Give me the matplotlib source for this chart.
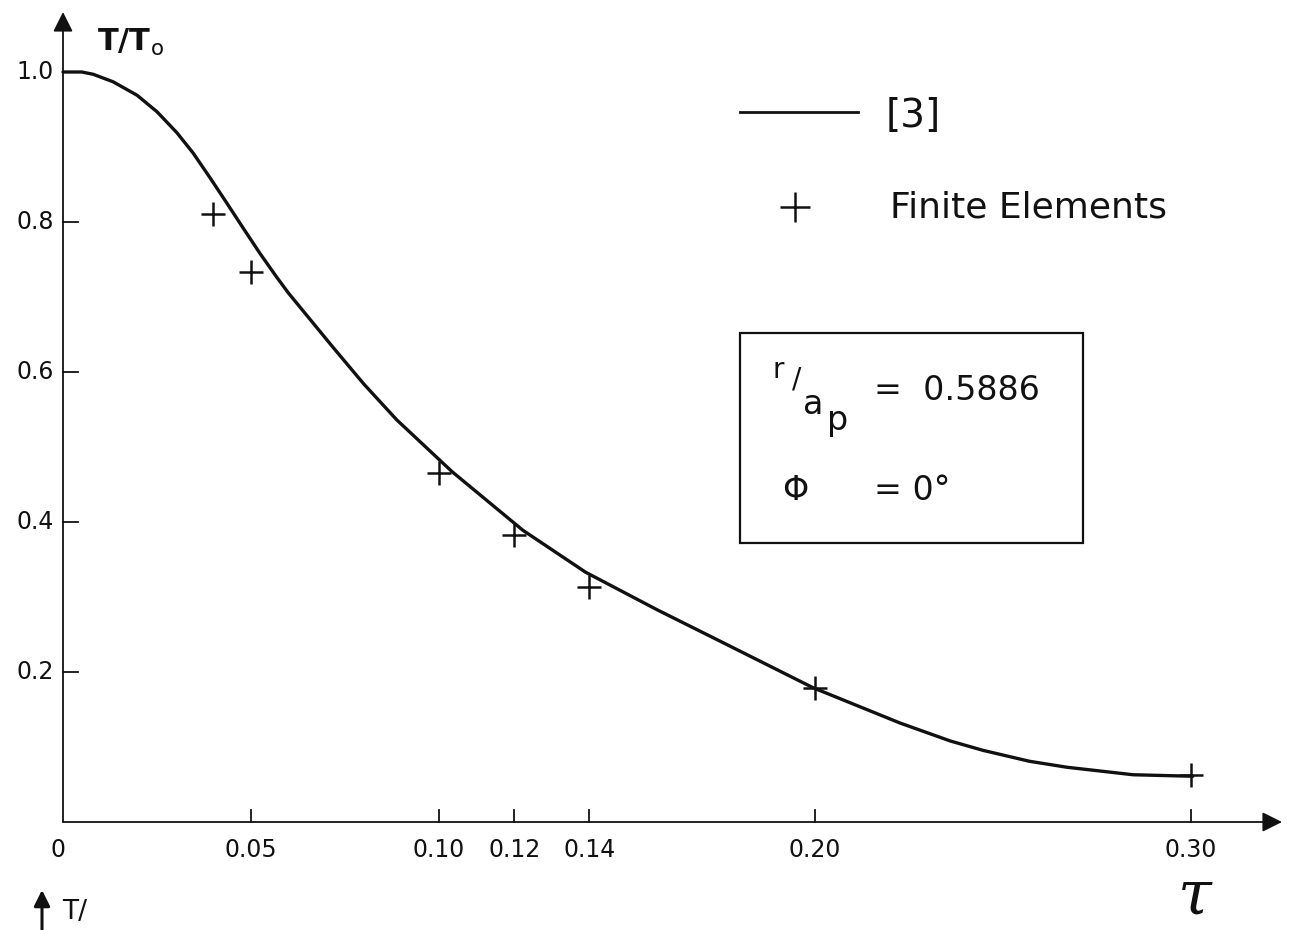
import matplotlib
matplotlib.use('Agg')
import matplotlib.pyplot as plt
from matplotlib.patches import Rectangle

# ---------------------------------------------------------------------------
# data
# ---------------------------------------------------------------------------
# curve [3]
tau_ref = [0.000, 0.005, 0.008, 0.0133, 0.0197, 0.025, 0.0303, 0.0346,
           0.0391, 0.0436, 0.0479, 0.0524, 0.0569, 0.060, 0.0718, 0.080,
           0.0888, 0.1035, 0.1223, 0.139, 0.158, 0.174, 0.1995, 0.2226,
           0.236, 0.2447, 0.257, 0.267, 0.2846, 0.3005]
T_ref = [1.000, 1.000, 0.997, 0.987, 0.969, 0.947, 0.919, 0.892,
         0.859, 0.825, 0.792, 0.758, 0.726, 0.705, 0.633, 0.584,
         0.536, 0.467, 0.389, 0.333, 0.283, 0.243, 0.179, 0.132,
         0.108, 0.0955, 0.081, 0.073, 0.063, 0.061]

# finite elements
tau_fe = [0.04, 0.05, 0.10, 0.12, 0.14, 0.20, 0.30]
T_fe = [0.811, 0.733, 0.465, 0.383, 0.313, 0.179, 0.063]

xticks = [0.05, 0.10, 0.12, 0.14, 0.20, 0.30]
xtick_labels = ['0.05', '0.10', '0.12', '0.14', '0.20', '0.30']
yticks = [0.2, 0.4, 0.6, 0.8, 1.0]
ytick_labels = ['0.2', '0.4', '0.6', '0.8', '1.0']

# ---------------------------------------------------------------------------
# page geometry: axes cover the whole figure, pixel <-> data mapping
# ---------------------------------------------------------------------------
W, H = 1291, 930
X0, Y0 = 63, 822        # pixel of (0, 0)
SX, SY = 3760.0, 750.0  # pixels per unit


def px(x, y):
    """pixel position (from top-left) -> data coords"""
    return (x - X0) / SX, (Y0 - y) / SY


plt.rcParams['font.family'] = ['DejaVu Sans']
fig = plt.figure(figsize=(W / 100, H / 100), dpi=100)
ax = fig.add_axes([0, 0, 1, 1])
ax.set_xlim(px(0, 0)[0], px(W, 0)[0])
ax.set_ylim(px(0, H)[1], px(0, 0)[1])
ax.axis('off')

ink = '#111111'

# axes with arrows
ax.annotate('', xy=px(1282, Y0), xytext=(0, 0),
            arrowprops=dict(arrowstyle='-|>', color=ink, lw=1.3,
                            mutation_scale=30, shrinkA=0, shrinkB=0))
ax.annotate('', xy=px(X0, 12), xytext=(0, 0),
            arrowprops=dict(arrowstyle='-|>', color=ink, lw=1.3,
                            mutation_scale=30, shrinkA=0, shrinkB=0))

# ticks
for t, lab in zip(xticks, xtick_labels):
    ax.plot([t, t], [0, 12 / SY], color=ink, lw=1.3)
    ax.text(t, px(0, 850)[1], lab, ha='center', va='center', fontsize=17, color=ink)
ax.text(px(58, 0)[0], px(0, 850)[1], '0', ha='center', va='center', fontsize=17, color=ink)
for t, lab in zip(yticks, ytick_labels):
    ax.plot([0, 15 / SX], [t, t], color=ink, lw=1.3)
    ax.text(px(54, 0)[0], t, lab, ha='right', va='center', fontsize=17, color=ink)

# axis labels
ax.text(*px(97, 42), r'T/T$_{\rm o}$', ha='left', va='center', fontsize=22,
        color=ink, fontweight='bold')
ax.text(*px(1195, 898), 'τ', ha='center', va='center', fontsize=44,
        family='DejaVu Serif', style='italic', color=ink)
# fragment of the next figure at the bottom edge
ax.annotate('', xy=px(42, 890), xytext=px(42, 935),
            arrowprops=dict(arrowstyle='-|>', color=ink, lw=2.2,
                            mutation_scale=24, shrinkA=0, shrinkB=0))
ax.text(*px(62, 912), 'T/', ha='left', va='center', fontsize=19, color=ink)

# data
ax.plot(tau_ref, T_ref, color=ink, lw=2.4, solid_capstyle='round',
        solid_joinstyle='round')
ax.plot(tau_fe, T_fe, ls='none', marker='+', ms=17, mew=1.8, color=ink)

# legend
ax.plot([px(740, 0)[0], px(858, 0)[0]], [px(0, 112)[1]] * 2, color=ink, lw=2)
ax.text(*px(886, 116), '[3]', ha='left', va='center', fontsize=28, color=ink)
ax.plot(*px(795, 207), marker='+', ms=21, mew=1.8, color=ink)
ax.text(*px(890, 207), 'Finite Elements', ha='left', va='center', fontsize=26, color=ink)

# parameter box
bx0, by0 = px(740, 543)
bx1, by1 = px(1083, 333)
ax.add_patch(Rectangle((bx0, by0), bx1 - bx0, by1 - by0, fill=False,
                       ec=ink, lw=1.6))
ax.text(*px(778, 370), 'r', ha='center', va='center', fontsize=20, color=ink)
ax.text(*px(797, 380), '/', ha='center', va='center', fontsize=20, color=ink)
ax.text(*px(813, 404), 'a', ha='center', va='center', fontsize=24, color=ink)
ax.text(*px(838, 420), 'p', ha='center', va='center', fontsize=24, color=ink)
ax.text(*px(874, 390), '=  0.5886', ha='left', va='center', fontsize=24, color=ink)
ax.text(*px(795, 490), 'Φ', ha='center', va='center', fontsize=24, color=ink)
ax.text(*px(874, 490), '= 0°', ha='left', va='center', fontsize=24, color=ink)

fig.savefig('out.png', dpi=100)
